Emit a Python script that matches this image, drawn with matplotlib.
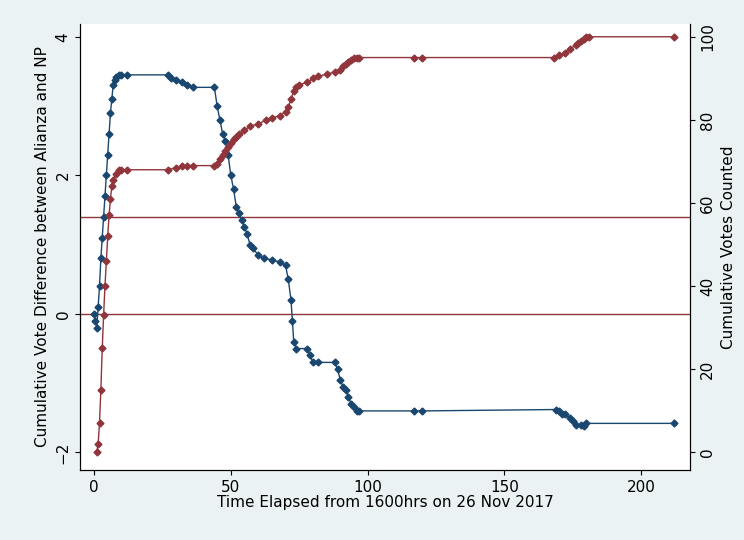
import matplotlib
matplotlib.use("Agg")
import matplotlib.pyplot as plt

# vote difference (left axis)
t_diff = [0, 0.5, 1, 1.5, 2, 2.5, 3, 3.5, 4, 4.5, 5, 5.5, 6, 6.5, 7, 7.5, 8, 9, 10, 12,
          27, 28, 30, 32, 34, 36, 44, 45, 46, 47, 48, 49, 50, 51, 52, 53, 54, 55, 56,
          57, 58, 60, 62, 65, 68, 70, 71, 72, 72.5, 73, 74, 78, 79, 80, 82, 88, 89, 90,
          91, 92, 93, 94, 95, 96, 97, 117, 120, 169, 170, 171, 172, 174, 175, 176, 178,
          179, 180, 212]
diff = [0, -0.1, -0.2, 0.1, 0.4, 0.8, 1.1, 1.4, 1.7, 2.0, 2.3, 2.6, 2.9, 3.1, 3.3, 3.38,
        3.42, 3.45, 3.45, 3.45, 3.45, 3.4, 3.38, 3.34, 3.3, 3.27, 3.27, 3.0, 2.8, 2.6,
        2.5, 2.3, 2.0, 1.8, 1.55, 1.45, 1.35, 1.25, 1.15, 1.0, 0.95, 0.85, 0.8, 0.78,
        0.75, 0.7, 0.5, 0.2, -0.1, -0.4, -0.5, -0.5, -0.6, -0.7, -0.7, -0.7, -0.8, -0.95,
        -1.05, -1.1, -1.2, -1.3, -1.35, -1.4, -1.4, -1.4, -1.4, -1.38, -1.4, -1.45, -1.45,
        -1.5, -1.55, -1.6, -1.6, -1.62, -1.58, -1.58]

# cumulative votes counted (right axis)
t_cum = [1, 1.5, 2, 2.5, 3, 3.5, 4, 4.5, 5, 5.5, 6, 6.5, 7, 8, 9, 10, 12, 27, 30, 32, 34,
         36, 44, 45, 46, 47, 48, 49, 50, 51, 52, 53, 55, 57, 60, 63, 65, 68, 70, 71,
         72, 73, 74, 75, 78, 80, 82, 85, 88, 90, 91, 92, 93, 94, 95, 96, 97, 117, 120,
         168, 170, 172, 174, 176, 177, 178, 179, 180, 181, 212]
cum = [0, 2, 7, 15, 25, 33, 40, 46, 52, 57, 61, 64, 65.5, 67, 68, 68, 68, 68, 68.5, 68.8,
       69, 69, 69, 69.5, 70.5, 71.5, 72.5, 73.5, 74.5, 75.5, 76, 76.5, 77.5, 78.5, 79,
       80, 80.5, 81, 82, 83, 85, 87, 88, 88.5, 89, 90, 90.5, 91, 91.5, 92, 93, 93.5, 94,
       94.5, 95, 95, 95, 95, 95, 95, 95.5, 96, 97, 98, 98.5, 99, 99.5, 100, 100, 100]

blue = "#1a476f"
red = "#90353b"

fig = plt.figure(figsize=(7.44, 5.4), dpi=100, facecolor="#eaf2f3")
ax = fig.add_axes([0.108, 0.13, 0.82, 0.825])
ax.set_facecolor("white")
ax2 = ax.twinx()

ax.axhline(0, color=red, lw=1)
ax.axhline(1.4, color=red, lw=1)

ax.plot(t_diff, diff, color=blue, lw=1, marker="D", ms=3.5)
ax2.plot(t_cum, cum, color=red, lw=1, marker="D", ms=3.5)

ax.set_xlim(-5, 218)
ax.set_ylim(-2.25, 4.18)
ax2.set_ylim(-4.2, 103)
ax.set_xticks([0, 50, 100, 150, 200])
ax.set_yticks([-2, 0, 2, 4])
ax2.set_yticks([0, 20, 40, 60, 80, 100])
ax.tick_params(axis="y", labelrotation=90)
ax2.tick_params(axis="y", labelrotation=90)
for a in (ax, ax2):
    a.tick_params(labelsize=11)
    a.spines["top"].set_visible(False)
    for lab in a.get_yticklabels():
        lab.set_va("center")

ax.set_xlabel("Time Elapsed from 1600hrs on 26 Nov 2017", fontsize=11, labelpad=0)
ax.set_ylabel("Cumulative Vote Difference between Alianza and NP", fontsize=11)
ax2.set_ylabel("Cumulative Votes Counted", fontsize=11)

fig.savefig("out.png", dpi=100, facecolor=fig.get_facecolor())
